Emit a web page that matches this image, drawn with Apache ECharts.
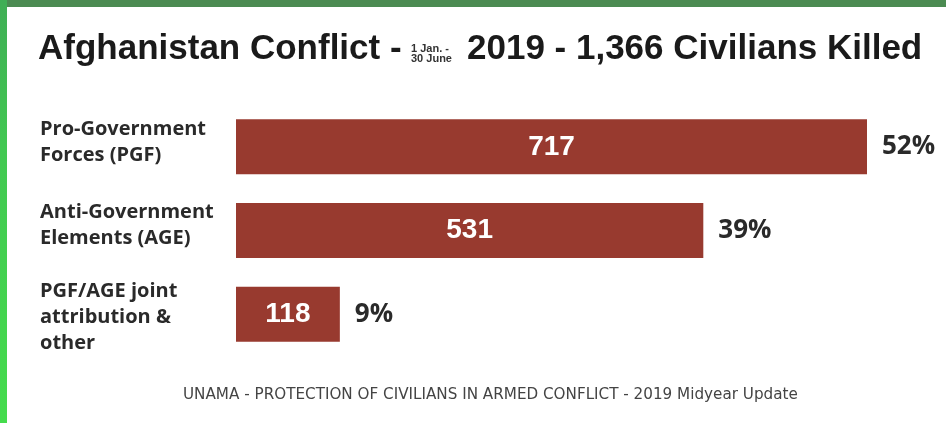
<!DOCTYPE html>
<html>
<head>
<meta charset="utf-8">
<script src="https://cdn.jsdelivr.net/npm/echarts@6/dist/echarts.min.js"></script>
<style>
  html, body { margin: 0; padding: 0; background: #fff; }
  #chart { width: 946px; height: 423px; }
</style>
</head>
<body>
<div id="chart"></div>
<script>
// Civilian deaths by responsible party, 1 Jan - 30 June 2019
const categories = [
  'Pro-Government\nForces (PGF)',
  'Anti-Government\nElements (AGE)',
  'PGF/AGE joint\nattribution &\nother'
];
const killed = [717, 531, 118];
const shares = ['52%', '39%', '9%'];

const BAR = '#983a2f';

// Wrap each line of a category name in a rich-text style; two-line names sit
// a little higher than the bar centre, the three-line one a little lower.
function categoryLabel(value, index) {
  const lines = value.split('\n').map(l => '{t|' + l + '}');
  if (lines.length < 3) {
    return lines.join('\n') + '\n{gapBelow|}';
  }
  return '{gapAbove|}\n' + lines.join('\n');
}

const chart = echarts.init(document.getElementById('chart'), null, { renderer: 'canvas' });

chart.setOption({
  backgroundColor: '#ffffff',
  animation: false,
  title: [
    {
      text: 'Afghanistan Conflict -',
      left: 33, top: 27,
      textStyle: { fontFamily: 'Liberation Sans', fontWeight: 'bold', fontSize: 35, color: '#1a1a1a' }
    },
    {
      text: '1 Jan. -\n30 June',
      left: 406, top: 39,
      textStyle: { fontFamily: 'Liberation Sans', fontWeight: 'bold', fontSize: 11, lineHeight: 10, color: '#333' }
    },
    {
      text: '2019 - 1,366 Civilians Killed',
      left: 462, top: 27,
      textStyle: { fontFamily: 'Liberation Sans', fontWeight: 'bold', fontSize: 35, color: '#1a1a1a' }
    },
    {
      text: 'UNAMA - PROTECTION OF CIVILIANS IN ARMED CONFLICT - 2019 Midyear Update',
      left: 178, top: 383,
      textStyle: { fontFamily: 'DejaVu Sans', fontWeight: 'normal', fontSize: 15.2, color: '#444' }
    }
  ],
  graphic: [
    {
      type: 'rect', left: 0, top: 0, z: 10,
      shape: { width: 946, height: 7 },
      style: { fill: '#4b8b52' }
    },
    {
      type: 'rect', left: 0, top: 0, z: 10,
      shape: { width: 7, height: 423 },
      style: {
        fill: new echarts.graphic.LinearGradient(0, 0, 0, 1, [
          { offset: 0, color: '#3fae55' },
          { offset: 0.35, color: '#42c852' },
          { offset: 1, color: '#45dc4d' }
        ])
      }
    }
  ],
  grid: { left: 236, width: 631, top: 105, height: 251, containLabel: false },
  xAxis: {
    type: 'value', min: 0, max: 717, show: false
  },
  yAxis: {
    type: 'category',
    data: categories,
    inverse: true,
    axisLine: { show: false },
    axisTick: { show: false },
    axisLabel: {
      align: 'left',
      margin: 196,
      formatter: categoryLabel,
      rich: {
        t: {
          fontFamily: 'Open Sans', fontWeight: 'bold', fontSize: 20,
          lineHeight: 26, color: '#2a2a2a'
        },
        gapBelow: { fontSize: 1, lineHeight: 10 },
        gapAbove: { fontSize: 1, lineHeight: 6 }
      }
    }
  },
  series: [
    {
      type: 'bar',
      data: killed,
      barWidth: 55,
      itemStyle: { color: BAR },
      label: {
        show: true,
        position: 'inside',
        fontFamily: 'Liberation Sans',
        fontWeight: 'bold',
        fontSize: 28,
        color: '#ffffff'
      },
      z: 2
    },
    {
      type: 'bar',
      data: killed,
      barWidth: 55,
      barGap: '-100%',
      itemStyle: { color: 'rgba(0,0,0,0)' },
      label: {
        show: true,
        position: 'right',
        distance: 15,
        formatter: p => shares[p.dataIndex],
        fontFamily: 'Open Sans',
        fontWeight: 'bold',
        fontSize: 26,
        color: '#2a2a2a'
      },
      silent: true,
      z: 3
    }
  ]
});
</script>
</body>
</html>
